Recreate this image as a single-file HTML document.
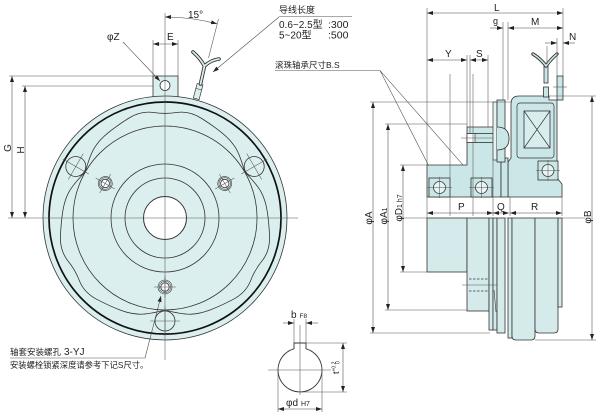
<!DOCTYPE html>
<html><head><meta charset="utf-8">
<style>
html,body{margin:0;padding:0;background:#fff;}
svg{display:block;}
text{font-family:"Liberation Sans","Noto Sans CJK SC",sans-serif;fill:#222;}
.o{stroke:#333;stroke-width:0.8;fill:none;}
.d{stroke:#555;stroke-width:0.55;fill:none;}
.da{stroke:#444;stroke-width:0.55;fill:none;marker-start:url(#a);marker-end:url(#a);}
.de{stroke:#444;stroke-width:0.55;fill:none;marker-end:url(#a);}
.lf{fill:#dcefef;stroke:#333;stroke-width:0.8;}
.rf{fill:#cbe6e6;stroke:#333;stroke-width:0.8;}
.xf{fill:#d5ebeb;stroke:#333;stroke-width:0.8;}
</style></head>
<body>
<svg width="600" height="412" viewBox="0 0 600 412" xmlns="http://www.w3.org/2000/svg">
<defs>
<marker id="a" viewBox="0 0 6 4" refX="6" refY="2" markerWidth="6" markerHeight="4" orient="auto-start-reverse" markerUnits="userSpaceOnUse"><path d="M0,0 L6,2 L0,4 Z" fill="#222"/></marker>
</defs>

<!-- ================= LEFT VIEW ================= -->
<!-- tab -->
<rect x="153" y="76" width="25" height="24" class="lf"/>
<!-- disk -->
<circle cx="165" cy="218" r="122" class="lf"/>
<circle cx="165" cy="85.5" r="5" fill="#fff" stroke="#333" stroke-width="0.8"/>
<circle cx="165" cy="218" r="116" fill="none" stroke="#111" stroke-width="1.7"/>
<circle cx="165" cy="218" r="92" class="o"/>

<!-- three segments -->
<g id="s0">
<path d="M244.7,172 Q240.1,155 235.35,147.45 Q230.6,139.9 222.2,133.05 Q213.8,126.2 201.75,118.5 Q189.7,110.8 177.35,112.4 Q165,114.5 152.65,112.4 Q140.3,110.8 128.25,118.5 Q116.2,126.2 107.8,133.05 Q99.4,139.9 94.65,147.45 Q89.9,155 85.3,172" class="o"/>
<circle cx="165" cy="321" r="10" class="lf"/>
<line x1="150" y1="321" x2="180" y2="321" class="d"/>
<line x1="165" y1="306" x2="165" y2="336" class="d"/>
<circle cx="165" cy="287" r="7" fill="#dcefef" stroke="#333" stroke-width="0.6"/>
<circle cx="165" cy="287" r="5.8" fill="none" stroke="#333" stroke-width="0.5"/>
<circle cx="165" cy="287" r="4.2" fill="#fff" stroke="#333" stroke-width="0.8"/>
<line x1="154" y1="287" x2="176" y2="287" class="d"/>
<line x1="165" y1="276" x2="165" y2="298" class="d"/>
</g>
<g transform="rotate(120 165 218)">
<path d="M244.7,172 Q240.1,155 235.35,147.45 Q230.6,139.9 222.2,133.05 Q213.8,126.2 201.75,118.5 Q189.7,110.8 177.35,112.4 Q165,114.5 152.65,112.4 Q140.3,110.8 128.25,118.5 Q116.2,126.2 107.8,133.05 Q99.4,139.9 94.65,147.45 Q89.9,155 85.3,172" class="o"/>
<circle cx="165" cy="321" r="10" class="lf"/>
<line x1="150" y1="321" x2="180" y2="321" class="d"/>
<line x1="165" y1="306" x2="165" y2="336" class="d"/>
<circle cx="165" cy="287" r="7" fill="#dcefef" stroke="#333" stroke-width="0.6"/>
<circle cx="165" cy="287" r="5.8" fill="none" stroke="#333" stroke-width="0.5"/>
<circle cx="165" cy="287" r="4.2" fill="#fff" stroke="#333" stroke-width="0.8"/>
<line x1="154" y1="287" x2="176" y2="287" class="d"/>
<line x1="165" y1="276" x2="165" y2="298" class="d"/>
</g>
<g transform="rotate(240 165 218)">
<path d="M244.7,172 Q240.1,155 235.35,147.45 Q230.6,139.9 222.2,133.05 Q213.8,126.2 201.75,118.5 Q189.7,110.8 177.35,112.4 Q165,114.5 152.65,112.4 Q140.3,110.8 128.25,118.5 Q116.2,126.2 107.8,133.05 Q99.4,139.9 94.65,147.45 Q89.9,155 85.3,172" class="o"/>
<circle cx="165" cy="321" r="10" class="lf"/>
<line x1="150" y1="321" x2="180" y2="321" class="d"/>
<line x1="165" y1="306" x2="165" y2="336" class="d"/>
<circle cx="165" cy="287" r="7" fill="#dcefef" stroke="#333" stroke-width="0.6"/>
<circle cx="165" cy="287" r="5.8" fill="none" stroke="#333" stroke-width="0.5"/>
<circle cx="165" cy="287" r="4.2" fill="#fff" stroke="#333" stroke-width="0.8"/>
<line x1="154" y1="287" x2="176" y2="287" class="d"/>
<line x1="165" y1="276" x2="165" y2="298" class="d"/>
</g>

<!-- center rings -->
<circle cx="165" cy="218" r="54" class="o" stroke-width="1"/>
<circle cx="165" cy="218" r="40" class="o" stroke-width="1"/>
<circle cx="165" cy="218" r="21.5" fill="#fff" stroke="#333" stroke-width="1"/>

<!-- centerlines -->
<line x1="165" y1="13" x2="165" y2="360" class="d"/>
<line x1="8" y1="218" x2="298" y2="218" class="d"/>

<!-- lead wire left view -->
<g transform="rotate(15 198 92)">
<rect x="195" y="84" width="6" height="15" fill="#dcefef" stroke="#333" stroke-width="0.7"/>
<line x1="195" y1="89" x2="201" y2="89" stroke="#333" stroke-width="0.5"/>
</g>
<path d="M200.5,84 L204.5,66 M204.5,66 Q200,58 193,52 M204.5,66 Q211,60 219,59" stroke="#333" stroke-width="3.6" fill="none" stroke-linecap="round"/>
<path d="M200.5,84 L204.5,66 M204.5,66 Q200,58 193,52 M204.5,66 Q211,60 219,59" stroke="#dcefef" stroke-width="1.8" fill="none" stroke-linecap="round"/>

<!-- dims left view -->
<line x1="9" y1="76" x2="153" y2="76" class="d"/>
<line x1="22" y1="86" x2="153" y2="86" class="d"/>
<line x1="12" y1="76" x2="12" y2="218" class="da"/>
<line x1="25" y1="86" x2="25" y2="218" class="da"/>
<text transform="translate(11,148) rotate(-90)" font-size="10" text-anchor="middle">G</text>
<text transform="translate(24,150) rotate(-90)" font-size="10" text-anchor="middle">H</text>

<line x1="153" y1="40" x2="153" y2="76" class="d"/>
<line x1="178" y1="40" x2="178" y2="76" class="d"/>
<line x1="153" y1="44" x2="178" y2="44" class="da"/>
<text x="167" y="40" font-size="10">E</text>
<text x="107" y="40" font-size="10">φZ</text>
<line x1="123" y1="42" x2="160" y2="81" class="de"/>

<path d="M165,17 A201,201 0 0 1 217,23.8" class="da"/>
<line x1="208.5" y1="58" x2="218.5" y2="19" class="d"/>
<text x="188" y="18" font-size="10">15°</text>

<text x="279" y="13" font-size="9">导线长度</text>
<line x1="279" y1="16.5" x2="352" y2="16.5" class="d"/>
<text x="279" y="28" font-size="10">0.6~2.5型</text>
<text x="328" y="28" font-size="10.5">:300</text>
<text x="279" y="38.5" font-size="10">5~20型</text>
<text x="328" y="38.5" font-size="10.5">:500</text>
<line x1="279" y1="17" x2="213" y2="72" class="de"/>

<text x="275" y="68" font-size="8.5">滚珠轴承尺寸B.S</text>
<line x1="275" y1="70.5" x2="380" y2="70.5" class="d"/>
<line x1="380" y1="70.5" x2="436" y2="180" class="de"/>
<line x1="380" y1="70.5" x2="478" y2="182" class="de"/>

<!-- bottom-left note -->
<text x="10" y="355" font-size="8.5">轴套安装螺孔</text>
<text x="64" y="355" font-size="10">3-YJ</text>
<line x1="10" y1="358" x2="145" y2="358" class="d"/>
<line x1="145" y1="358" x2="161" y2="296" class="de"/>
<text x="10" y="368" font-size="8.3">安装螺栓锁紧深度请参考下记S尺寸。</text>

<!-- ================= SHAFT / KEYWAY ================= -->
<path d="M294,348.8 A22,22 0 1 0 306,348.8 L306,343 L294,343 Z" fill="#fff" stroke="#333" stroke-width="0.9"/>
<line x1="268" y1="370" x2="331" y2="370" class="d"/>
<line x1="300" y1="325" x2="300" y2="395" class="d"/>
<line x1="294" y1="319" x2="294" y2="343" class="d"/>
<line x1="306" y1="319" x2="306" y2="343" class="d"/>
<line x1="283" y1="323" x2="294" y2="323" class="de"/>
<line x1="318" y1="323" x2="306" y2="323" class="de"/>
<text x="291" y="318" font-size="10">b</text>
<text x="299.5" y="318" font-size="6.5">F8</text>
<line x1="306" y1="343" x2="347" y2="343" class="d"/>
<line x1="300" y1="392" x2="347" y2="392" class="d"/>
<line x1="343" y1="343" x2="343" y2="392" class="da"/>
<text transform="translate(339,374) rotate(-90)" font-size="9">t<tspan font-size="5" dy="-3.5">+0.2</tspan></text>
<text transform="translate(339.5,364) rotate(-90)" font-size="5">0</text>
<line x1="278" y1="372" x2="278" y2="412" class="d"/>
<line x1="322" y1="372" x2="322" y2="412" class="d"/>
<line x1="278" y1="409" x2="322" y2="409" class="da"/>
<text x="286" y="406" font-size="10">φd</text>
<text x="301" y="406" font-size="7">H7</text>

<!-- ================= RIGHT VIEW ================= -->
<!-- lower external view -->
<rect x="427" y="218" width="40" height="54" class="xf"/>
<rect x="467" y="218" width="22" height="93" class="xf"/>
<rect x="489" y="218" width="4" height="112" class="xf"/>
<rect x="493" y="218" width="4" height="112" class="xf"/>
<rect x="497" y="218" width="8" height="115" class="xf"/>
<rect x="508" y="218" width="4" height="120" class="xf"/>
<path d="M512,218 L512,336 Q512,340 516,340 L531,340 Q535,340 535,336 L535,218 Z" class="xf"/>
<path d="M535,218 L535,329 Q535,333 539,333 L554,333 Q558,333 558,329 L558,218 Z" class="xf"/>
<rect x="558" y="218" width="4" height="89" class="xf"/>
<line x1="469" y1="279" x2="489" y2="279" stroke="#333" stroke-width="0.7" stroke-dasharray="2.5,1.5"/>
<line x1="469" y1="291" x2="489" y2="291" stroke="#333" stroke-width="0.7" stroke-dasharray="2.5,1.5"/>
<line x1="462" y1="285" x2="497" y2="285" class="d"/>
<line x1="494" y1="290" x2="496" y2="312" stroke="#333" stroke-width="0.6"/>

<!-- upper section -->
<path d="M508,197 L508,162 L511,158 L511,104 Q511,96 519,96 L549,96 L549,100 L557,100 L557,178 L562,184 L562,197 Z" class="rf"/>
<path d="M427,165 L467,165 L467,127 L494,127 L494,158 L501,158 L501,197 L427,197 Z" class="rf"/>
<rect x="501" y="158" width="7" height="39" class="rf"/>
<rect x="467" y="133.5" width="27" height="9" class="rf" stroke-width="0.7"/>
<rect x="467" y="133.5" width="8" height="9" fill="#fff" stroke="#333" stroke-width="0.7"/>
<line x1="461" y1="138" x2="500" y2="138" class="d"/>

<rect x="493" y="102" width="4" height="58" fill="#e6f3f3" stroke="#333" stroke-width="0.7"/>
<rect x="497" y="100" width="8" height="62" class="rf"/>
<path d="M497,127 Q509,127 509,138.5 Q509,150 497,150" class="rf" stroke-width="0.7"/>

<rect x="517" y="103" width="37" height="55" rx="3" fill="none" stroke="#333" stroke-width="0.7"/>
<rect x="524" y="111" width="26" height="37" fill="#d8eeee" stroke="#333" stroke-width="0.8"/>
<path d="M524,111 L550,148 M550,111 L524,148" stroke="#333" stroke-width="0.7" fill="none"/>

<!-- bearings -->
<rect x="429" y="178" width="21" height="19" class="rf" stroke-width="0.7"/>
<circle cx="439.5" cy="187.5" r="6" fill="#e8f5f5" stroke="#333" stroke-width="0.8"/>
<path d="M427,187.5 H452 M439.5,177 V198" class="d"/>
<rect x="471" y="178" width="21" height="19" class="rf" stroke-width="0.7"/>
<circle cx="481.5" cy="187.5" r="6" fill="#e8f5f5" stroke="#333" stroke-width="0.8"/>
<path d="M469,187.5 H494 M481.5,177 V198" class="d"/>
<rect x="538" y="161" width="20" height="19" class="rf" stroke-width="0.7"/>
<circle cx="548" cy="170.5" r="6" fill="#e8f5f5" stroke="#333" stroke-width="0.8"/>
<path d="M536,170.5 H560 M548,160 V181" class="d"/>

<!-- terminal & wire right view -->
<rect x="557" y="76" width="6" height="24" class="rf" stroke-width="0.7"/>
<line x1="553" y1="87" x2="567" y2="87" class="d"/>
<rect x="543.5" y="87" width="5" height="10" class="rf" stroke-width="0.7"/>
<rect x="544" y="65" width="4" height="18" class="rf" stroke-width="0.7"/>
<path d="M546,66 Q541,59 533,54 M546,66 Q551,59 557,54" stroke="#333" stroke-width="3.4" fill="none" stroke-linecap="round"/>
<path d="M546,66 Q541,59 533,54 M546,66 Q551,59 557,54" stroke="#cbe6e6" stroke-width="1.6" fill="none" stroke-linecap="round"/>
<line x1="547" y1="46" x2="547" y2="64" class="d"/>

<!-- centerline right -->
<line x1="400" y1="218" x2="585" y2="218" class="d"/>

<!-- extension lines right -->
<line x1="427" y1="8" x2="427" y2="218" class="d"/>
<line x1="563" y1="8" x2="563" y2="76" class="d"/>
<line x1="503" y1="22" x2="503" y2="100" class="d"/>
<line x1="508" y1="22" x2="508" y2="100" class="d"/>
<line x1="557" y1="38" x2="557" y2="76" class="d"/>
<line x1="467" y1="55" x2="467" y2="127" class="d"/>
<line x1="470" y1="55" x2="470" y2="133" class="d"/>
<line x1="488" y1="55" x2="488" y2="127" class="d"/>
<line x1="450" y1="74" x2="450" y2="216" class="d"/>
<line x1="473" y1="74" x2="473" y2="216" class="d"/>
<line x1="493" y1="160" x2="493" y2="216" class="d"/>
<line x1="510" y1="197" x2="510" y2="216" class="d"/>
<line x1="562" y1="197" x2="562" y2="216" class="d"/>

<!-- dims right -->
<line x1="427" y1="13" x2="563" y2="13" class="da"/>
<text x="494" y="11" font-size="10">L</text>
<line x1="490" y1="28" x2="503" y2="28" class="de"/>
<text x="493" y="24" font-size="9">g</text>
<line x1="508" y1="28" x2="563" y2="28" class="da"/>
<text x="531" y="25" font-size="10">M</text>
<line x1="545" y1="43" x2="557" y2="43" class="de"/>
<line x1="575" y1="43" x2="563" y2="43" class="de"/>
<text x="569" y="40" font-size="10">N</text>
<line x1="427" y1="60" x2="467" y2="60" class="da"/>
<text x="445" y="57" font-size="10">Y</text>
<line x1="470" y1="60" x2="488" y2="60" class="da"/>
<text x="476" y="57" font-size="10">S</text>

<line x1="427" y1="213" x2="493" y2="213" class="da"/>
<text x="458" y="210" font-size="10">P</text>
<line x1="493" y1="213" x2="509" y2="213" class="da"/>
<text x="497" y="210" font-size="10">Q</text>
<line x1="510" y1="213" x2="562" y2="213" class="da"/>
<text x="531" y="210" font-size="10">R</text>

<line x1="370" y1="102" x2="511" y2="102" class="d"/>
<line x1="370" y1="333" x2="490" y2="333" class="d"/>
<line x1="373" y1="102" x2="373" y2="333" class="da"/>
<line x1="385" y1="124" x2="467" y2="124" class="d"/>
<line x1="385" y1="310" x2="467" y2="310" class="d"/>
<line x1="388" y1="124" x2="388" y2="310" class="da"/>
<line x1="400" y1="165" x2="427" y2="165" class="d"/>
<line x1="400" y1="272" x2="427" y2="272" class="d"/>
<line x1="403" y1="165" x2="403" y2="272" class="da"/>
<line x1="549" y1="96" x2="596" y2="96" class="d"/>
<line x1="535" y1="340" x2="596" y2="340" class="d"/>
<line x1="592" y1="96" x2="592" y2="340" class="da"/>

<text transform="translate(372,218) rotate(-90)" font-size="10" text-anchor="middle">φA</text>
<text transform="translate(387,216) rotate(-90)" font-size="10" text-anchor="middle">φA<tspan font-size="7">1</tspan></text>
<text transform="translate(402,208) rotate(-90)" font-size="10" text-anchor="middle">φD<tspan font-size="7">1</tspan><tspan font-size="7"> h7</tspan></text>
<text transform="translate(591,217) rotate(-90)" font-size="10" text-anchor="middle">φB</text>
</svg>
</body></html>
